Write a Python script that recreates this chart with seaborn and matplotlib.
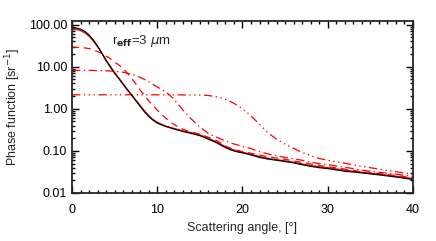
import matplotlib
matplotlib.use("Agg")
import matplotlib.pyplot as plt
import seaborn as sns
import pandas as pd
import numpy as np
from matplotlib.ticker import FixedLocator, LogLocator, FormatStrFormatter, MultipleLocator, NullFormatter

# scattering angles [deg]
angle = [0, 0.5, 1, 1.5, 2, 2.5, 3, 3.5, 4, 4.5, 5, 5.5, 6, 6.5, 7, 7.5, 8, 8.5, 9, 9.5,
         10, 10.5, 11, 11.5, 12, 12.5, 13, 13.5, 14, 14.5, 15, 15.5, 16, 16.5, 17, 17.5,
         18, 18.5, 19, 19.5, 20, 20.5, 21, 21.5, 22, 22.5, 23, 23.5, 24,
         25, 26, 27, 28, 29, 30, 32, 34, 36, 38, 40]

# original phase function (black)
p_orig = [85, 83, 78, 69, 57, 43, 31, 21, 14, 9.8, 7.0, 5.2, 3.8, 2.8, 2.1, 1.55, 1.15, 0.85,
          0.66, 0.54, 0.46, 0.415, 0.38, 0.355, 0.33, 0.31, 0.29, 0.275, 0.26, 0.245, 0.23,
          0.21, 0.19, 0.172, 0.155, 0.136, 0.12, 0.108, 0.10, 0.094, 0.09, 0.085, 0.08,
          0.075, 0.07, 0.067, 0.064, 0.062, 0.06,
          0.056, 0.052, 0.047, 0.043, 0.040, 0.038, 0.033, 0.030, 0.027, 0.024, 0.021]
# smoothed versions (red)
p_solid = [79, 77, 72, 64, 53, 41, 30, 21, 14.5, 10.2, 7.3, 5.4, 3.95, 2.9, 2.15, 1.6, 1.2,
           0.9, 0.69, 0.56, 0.48, 0.43, 0.39, 0.365, 0.34, 0.32, 0.30, 0.285, 0.27, 0.255,
           0.24, 0.22, 0.20, 0.18, 0.162, 0.143, 0.126, 0.114, 0.105, 0.098, 0.093, 0.088,
           0.083, 0.078, 0.074, 0.070, 0.067, 0.064, 0.062,
           0.058, 0.054, 0.049, 0.045, 0.042, 0.040, 0.035, 0.031, 0.028, 0.025, 0.022]
p_dash = [29, 29, 28.5, 28, 27, 25, 23, 20.5, 18, 15.5, 13, 11, 9.0, 7.0, 5.3, 3.9, 2.8, 2.1,
          1.55, 1.2, 0.93, 0.74, 0.6, 0.5, 0.42, 0.37, 0.33, 0.30, 0.28, 0.265, 0.25, 0.23,
          0.21, 0.193, 0.175, 0.152, 0.132, 0.118, 0.108, 0.102, 0.097, 0.092, 0.088, 0.084,
          0.080, 0.076, 0.073, 0.070, 0.068,
          0.063, 0.058, 0.053, 0.049, 0.045, 0.042, 0.037, 0.032, 0.029, 0.026, 0.023]
p_dashdot = [8.2, 8.2, 8.2, 8.2, 8.2, 8.15, 8.1, 8.05, 8.0, 7.9, 7.8, 7.6, 7.4, 7.0, 6.6, 6.1,
             5.6, 5.0, 4.4, 3.8, 3.3, 2.9, 2.5, 2.1, 1.65, 1.25, 0.95, 0.73, 0.57, 0.46, 0.37,
             0.31, 0.26, 0.232, 0.21, 0.19, 0.172, 0.158, 0.146, 0.137, 0.128, 0.121, 0.114,
             0.104, 0.096, 0.090, 0.085, 0.081, 0.077,
             0.070, 0.065, 0.060, 0.054, 0.050, 0.047, 0.041, 0.035, 0.031, 0.028, 0.025]
p_dash3dot = [2.15, 2.15, 2.15, 2.15, 2.15, 2.15, 2.15, 2.15, 2.15, 2.15, 2.15, 2.15, 2.15,
              2.15, 2.15, 2.15, 2.15, 2.15, 2.15, 2.15, 2.15, 2.15, 2.15, 2.15, 2.15, 2.15,
              2.14, 2.14, 2.13, 2.13, 2.12, 2.1, 2.07, 2.0, 1.92, 1.82, 1.68, 1.52, 1.35,
              1.17, 1.0, 0.83, 0.68, 0.54, 0.43, 0.34, 0.27, 0.225, 0.19,
              0.145, 0.115, 0.092, 0.078, 0.066, 0.060, 0.051, 0.043, 0.037, 0.032, 0.028]

sns.set_style("ticks")
plt.rcParams['font.family'] = ['Liberation Sans', 'DejaVu Sans']
plt.rcParams['mathtext.fontset'] = 'dejavusans'
plt.rcParams['lines.scale_dashes'] = False

df = pd.DataFrame({'angle': angle, 'orig': p_orig, 'solid': p_solid, 'dash': p_dash,
                   'dashdot': p_dashdot, 'dash3dot': p_dash3dot})

fig = plt.figure(figsize=(4.36, 2.41), dpi=100)
ax = fig.add_axes([0.1651, 0.1992, 0.782, 0.7137])

red = (1, 0, 0)
lw = 0.9
sns.lineplot(x='angle', y='dash3dot', data=df, color=red, lw=lw, ax=ax,
             linestyle=(0, (6, 2.5, 1, 2.5, 1, 2.5, 1, 2.5)))
sns.lineplot(x='angle', y='dashdot', data=df, color=red, lw=lw, ax=ax,
             linestyle=(0, (6, 2.5, 1, 2.5)))
sns.lineplot(x='angle', y='dash', data=df, color=red, lw=lw, ax=ax,
             linestyle=(0, (5, 3.5)))
sns.lineplot(x='angle', y='solid', data=df, color=red, lw=lw, ax=ax)
sns.lineplot(x='angle', y='orig', data=df, color='black', lw=lw, ax=ax)

ax.set_yscale('log')
ax.set_xlim(0, 40)
ax.set_ylim(0.01, 122)

ax.xaxis.set_major_locator(MultipleLocator(10))
ax.xaxis.set_minor_locator(MultipleLocator(1))
ax.yaxis.set_major_locator(FixedLocator([0.01, 0.1, 1, 10, 100]))
ax.yaxis.set_major_formatter(FormatStrFormatter('%.2f'))
ax.yaxis.set_minor_locator(LogLocator(base=10, subs=np.arange(2, 10), numticks=20))
ax.yaxis.set_minor_formatter(NullFormatter())

ax.tick_params(which='both', direction='in', top=True, right=True, width=1.0,
               labelsize=9, colors='black')
ax.tick_params(which='major', length=5)
ax.tick_params(which='minor', length=2.5)
ax.tick_params(axis='x', pad=8)
for s in ax.spines.values():
    s.set_linewidth(1.3)

ax.set_xlabel('Scattering angle, [°]', fontsize=9)
ax.set_ylabel('Phase function [sr$^{-1}$]', fontsize=9, labelpad=4)
ax.text(4.7, 40, r'r$_{\mathbf{eff}}$=3 $\mu$m', fontsize=9.5, va='center', ha='left')

plt.savefig('out.png', dpi=100)
